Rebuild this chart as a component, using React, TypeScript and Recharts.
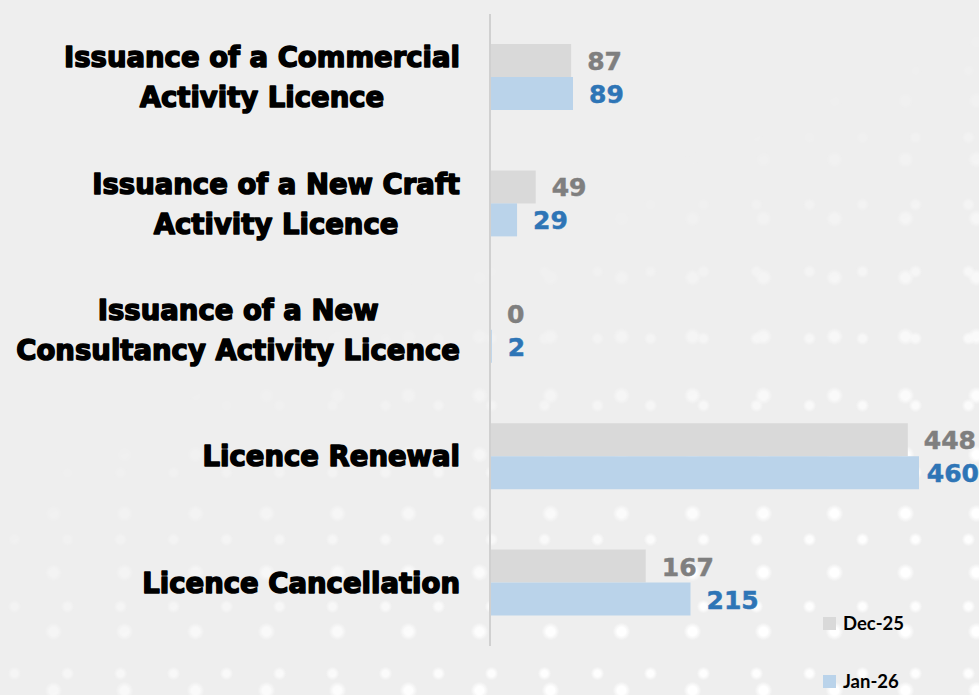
import { BarChart, Bar, XAxis, YAxis, LabelList } from "recharts";

const categories = [
  "Issuance of a Commercial\nActivity Licence",
  "Issuance of a New Craft\nActivity Licence",
  "Issuance of a New\nConsultancy Activity Licence",
  "Licence Renewal",
  "Licence Cancellation",
];
const dec25 = [87, 49, 0, 448, 167];
const jan26 = [89, 29, 2, 460, 215];
const seriesNames = ["Dec-25", "Jan-26"];

const GREY = "#d9d9d9";
const BLUE = "#bad3ea";
const GREY_TEXT = "#7f7f7f";
const BLUE_TEXT = "#2e75b6";

const CAT_FONT = "bold 27.5px 'DejaVu Sans'";
const VAL_FONT = "bold 25px 'DejaVu Sans'";
const W = 979;

const data = categories.map((name, i) => ({
  name,
  [seriesNames[0]]: dec25[i],
  [seriesNames[1]]: jan26[i],
}));

let ctx: CanvasRenderingContext2D | null = null;
const measure = (s: string, font: string) => {
  if (!ctx) ctx = document.createElement("canvas").getContext("2d");
  if (!ctx) return s.length * 15;
  ctx.font = font;
  return ctx.measureText(s).width;
};

// right-aligned block, each line centred inside it (like the original slide)
const CategoryTick = (props: any) => {
  const { x, y, payload } = props;
  const lines: string[] = String(payload.value).split("\n");
  const blockW = Math.max(...lines.map((l) => measure(l, CAT_FONT)));
  const cx = x - 30 - blockW / 2;
  return (
    <g>
      {lines.map((line, i) => (
        <text
          key={i}
          x={cx}
          y={y + (i - (lines.length - 1) / 2) * 40 + 10}
          textAnchor="middle"
          fontFamily="'DejaVu Sans', sans-serif"
          fontWeight="bold"
          fontSize={27.5}
          fill="#000"
          stroke="#000"
          strokeWidth={1.5}
          strokeLinejoin="round"
        >
          {line}
        </text>
      ))}
    </g>
  );
};

// value label to the right of the bar, pulled back in when it would run off the slide
const valueLabel = (color: string) => (props: any) => {
  const { x, y, width, height, value } = props;
  const txt = String(value);
  const tw = measure(txt, VAL_FONT);
  let lx = x + width + 16;
  if (lx + tw > W) lx = W - tw;
  return (
    <text
      x={lx}
      y={y + height / 2 + 1}
      dominantBaseline="central"
      fill={color}
      stroke={color}
      strokeWidth={0.5}
      fontFamily="'DejaVu Sans', sans-serif"
      fontWeight="bold"
      fontSize={25}
    >
      {txt}
    </text>
  );
};

export default function App() {
  return (
    <div
      style={{
        position: "absolute",
        left: 0,
        top: 0,
        width: W,
        height: 695,
        overflow: "hidden",
        background: "#eeeeee",
      }}
    >
      <div
        style={{
          position: "absolute",
          inset: 0,
          backgroundImage:
            "radial-gradient(circle, rgba(255,255,255,1) 0 4px, rgba(255,255,255,0) 9px), radial-gradient(circle, rgba(255,255,255,0.9) 0 3px, rgba(255,255,255,0) 7px)",
          backgroundSize: "71px 59px, 53px 67px",
          backgroundPosition: "18px 12px, 41px 37px",
          WebkitMaskImage: "linear-gradient(155deg, transparent 40%, rgba(0,0,0,1) 80%)",
          maskImage: "linear-gradient(155deg, transparent 40%, rgba(0,0,0,1) 80%)",
        }}
      />
      <BarChart
        width={W}
        height={695}
        data={data}
        layout="vertical"
        barGap={0}
        margin={{ top: 14, right: 60, bottom: 49, left: 0 }}
        style={{ position: "absolute", left: 0, top: 0 }}
      >
        <XAxis type="number" domain={[0, 460]} hide />
        <YAxis
          type="category"
          dataKey="name"
          width={490}
          tickLine={false}
          tickSize={0}
          tickMargin={0}
          axisLine={{ stroke: "#d0d0d0", strokeWidth: 2 }}
          tick={<CategoryTick />}
          interval={0}
        />
        <Bar dataKey={seriesNames[0]} fill={GREY} barSize={33} minPointSize={1} isAnimationActive={false}>
          <LabelList dataKey={seriesNames[0]} content={valueLabel(GREY_TEXT)} />
        </Bar>
        <Bar dataKey={seriesNames[1]} fill={BLUE} barSize={33} minPointSize={1} isAnimationActive={false}>
          <LabelList dataKey={seriesNames[1]} content={valueLabel(BLUE_TEXT)} />
        </Bar>
      </BarChart>
      <div
        style={{
          position: "absolute",
          left: 823,
          top: 612,
          fontFamily: "Lato, sans-serif",
          fontWeight: 700,
        }}
      >
        {[GREY, BLUE].map((c, i) => (
          <div
            key={seriesNames[i]}
            style={{ display: "flex", alignItems: "center", height: 22, marginBottom: i === 0 ? 36 : 0 }}
          >
            <span style={{ width: 13, height: 13, background: c, display: "inline-block", marginRight: 7 }} />
            <span style={{ fontSize: 18.5, color: "#000" }}>{seriesNames[i]}</span>
          </div>
        ))}
      </div>
    </div>
  );
}
